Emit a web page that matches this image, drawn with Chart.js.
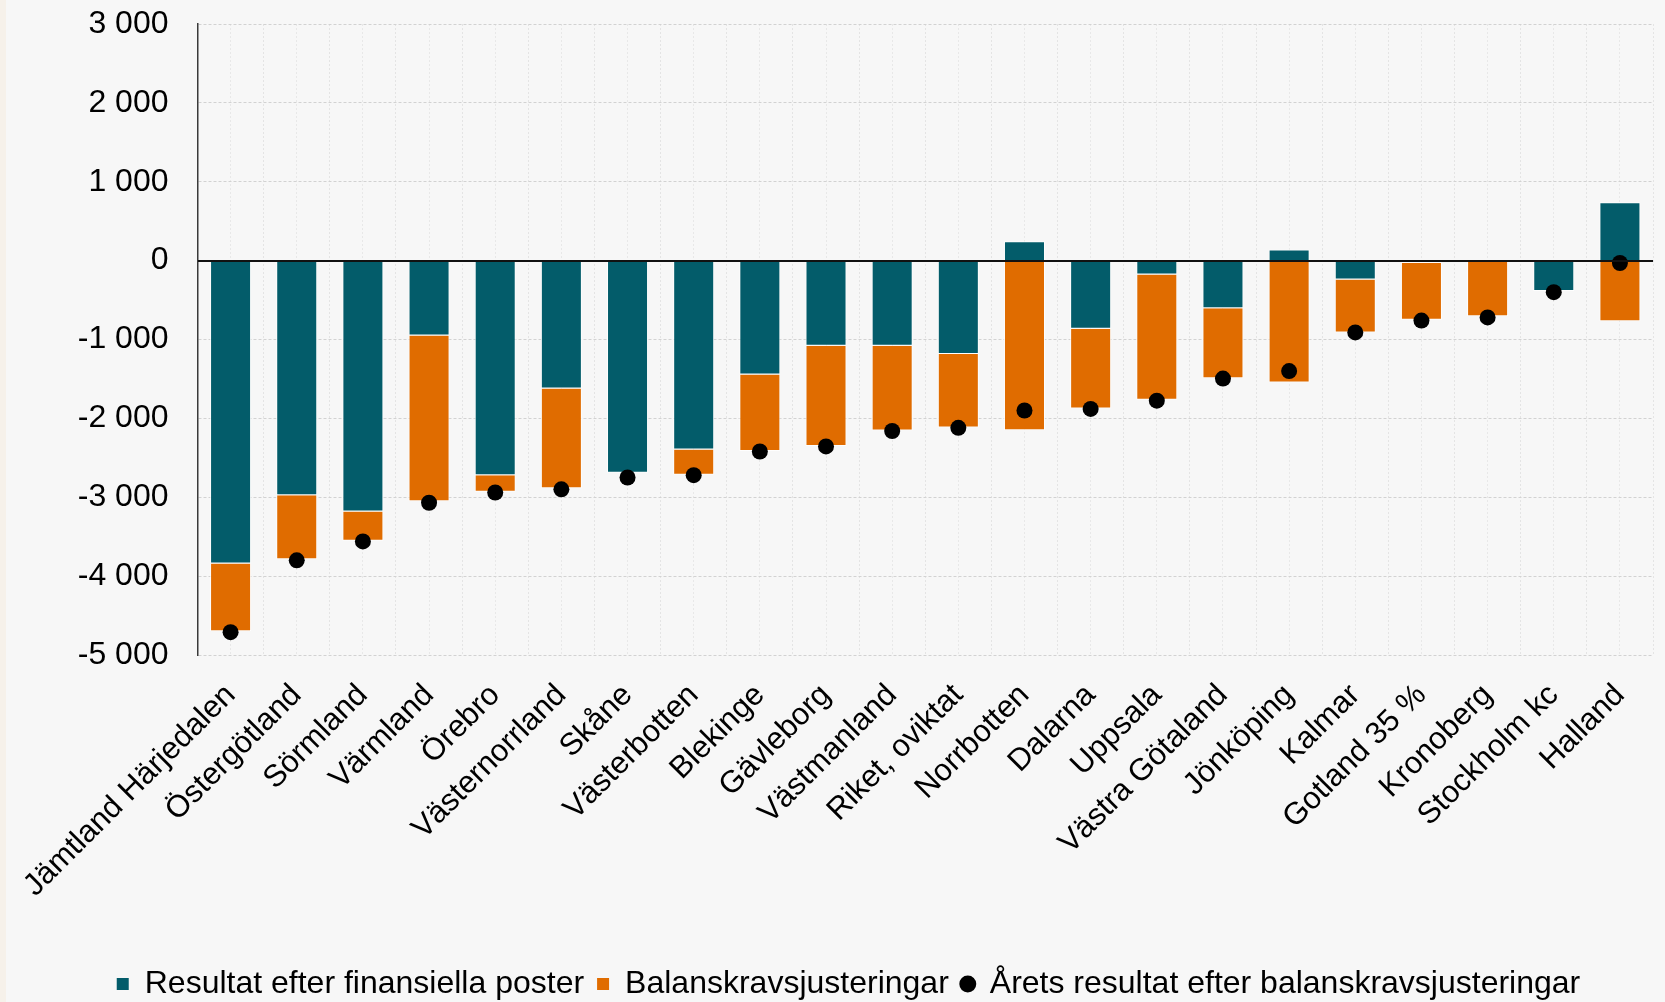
<!DOCTYPE html>
<html lang="sv">
<head>
<meta charset="utf-8">
<title>Resultat och balanskravsjusteringar per region</title>
<script src="https://cdn.jsdelivr.net/npm/chart.js@4.4.1/dist/chart.umd.min.js"></script>
<style>
  html, body { margin: 0; padding: 0; background: #f7f7f7; }
  #wrap { position: relative; width: 1665px; height: 1002px; }
  #edge { position: absolute; left: 0; top: 0; width: 6px; height: 100%; background: #f6f1ea; }
  canvas { display: block; }
</style>
</head>
<body>
<div id="wrap">
  <canvas id="chart" width="1665" height="1002"></canvas>
  <div id="edge"></div>
</div>
<script>
const categories = [
  "Jämtland Härjedalen", "Östergötland", "Sörmland", "Värmland", "Örebro",
  "Västernorrland", "Skåne", "Västerbotten", "Blekinge", "Gävleborg",
  "Västmanland", "Riket, oviktat", "Norrbotten", "Dalarna", "Uppsala",
  "Västra Götaland", "Jönköping", "Kalmar", "Gotland 35 %", "Kronoberg",
  "Stockholm kc", "Halland",
];
// mnkr
const resultat = [-3840, -2975, -3180, -950, -2720, -1620, -2690, -2395, -1445, -1080, -1080, -1185, 245, -865, -175, -605, 140, -240, -30, 0, -385, 740];
const balanskrav = [-860, -810, -370, -2100, -210, -1265, 0, -320, -970, -1270, -1075, -930, -2150, -1010, -1590, -885, -1545, -670, -720, -705, 0, -770];
const aretsResultat = [-4710, -3800, -3560, -3070, -2940, -2900, -2750, -2720, -2420, -2355, -2160, -2120, -1900, -1880, -1775, -1495, -1400, -910, -760, -720, -400, -30];

const yMin = -5000;
const yMax = 3000;
const yStep = 1000;

const TEAL = "#035c6a";
const ORANGE = "#e06c00";

// "3 000", "-1 000" – mellanslag som tusentalsavgränsare
function fmt(v) {
  const s = Math.abs(v).toString().replace(/\B(?=(\d{3})+(?!\d))/g, " ");
  return (v < 0 ? "-" : "") + s;
}

Chart.defaults.font.family = "'Liberation Sans', Arial, sans-serif";
Chart.defaults.color = "#000";

const ctx = document.getElementById("chart").getContext("2d");

new Chart(ctx, {
  type: "bar",
  data: {
    labels: categories,
    datasets: [
      {
        type: "bar",
        label: "Resultat efter finansiella poster",
        data: resultat,
        backgroundColor: TEAL,
        borderColor: "rgba(255,255,255,0.85)",
        borderWidth: 1,
        stack: "s",
        order: 1,
        xAxisID: "x",
        yAxisID: "y",
        barPercentage: 0.62,
        categoryPercentage: 1,
      },
      {
        type: "bar",
        label: "Balanskravsjusteringar",
        data: balanskrav,
        backgroundColor: ORANGE,
        borderColor: "rgba(255,255,255,0.85)",
        borderWidth: 1,
        stack: "s",
        order: 1,
        xAxisID: "x",
        yAxisID: "y",
        barPercentage: 0.62,
        categoryPercentage: 1,
      },
      {
        type: "line",
        label: "Årets resultat efter balanskravsjusteringar",
        data: aretsResultat,
        showLine: false,
        pointRadius: 8,
        pointHoverRadius: 8,
        pointBackgroundColor: "#000",
        pointBorderWidth: 0,
        backgroundColor: "#000",
        borderColor: "#000",
        stack: "dots",
        order: 0,
        xAxisID: "x",
        yAxisID: "y",
      },
    ],
  },
  options: {
    responsive: false,
    animation: false,
    // vänster padding 44 så att förklaringen hamnar centrerad som i originalet
    layout: { padding: { top: 24, right: 12, bottom: -8, left: 44 } },
    plugins: {
      tooltip: { enabled: false },
      legend: {
        position: "bottom",
        labels: {
          font: { size: 32 },
          color: "#000",
          usePointStyle: true,
          boxWidth: 12,
          boxHeight: 12,
          padding: 13,
          sort: (a, b) => a.datasetIndex - b.datasetIndex,
          generateLabels(chart) {
            const items = Chart.defaults.plugins.legend.labels.generateLabels(chart);
            items.forEach((it) => {
              const ds = chart.data.datasets[it.datasetIndex];
              it.pointStyle = ds.type === "line" ? "circle" : "rect";
              it.lineWidth = 0;
              it.strokeStyle = "transparent";
            });
            return items;
          },
        },
      },
    },
    scales: {
      x: {
        type: "category",
        stacked: true,
        offset: true,
        grid: {
          offset: true,
          color: "#e4e4e4",
          drawTicks: true,
          tickLength: 14,
          tickColor: "rgba(0,0,0,0)",
        },
        border: { display: false, dash: [2, 2] },
        ticks: {
          color: "#000",
          font: { size: 31 },
          maxRotation: 45,
          minRotation: 45,
          padding: 8,
          autoSkip: false,
        },
        afterFit(s) { s.height = 300; },
      },
      // extra linjer mitt i varje kategori
      x2: {
        type: "category",
        labels: categories,
        position: "top",
        offset: true,
        grid: { offset: false, color: "#e8e8e8", drawTicks: false },
        border: { display: false, dash: [2, 2] },
        ticks: { display: false },
      },
      y: {
        stacked: true,
        min: yMin,
        max: yMax,
        ticks: { stepSize: yStep, color: "#000", font: { size: 32 }, padding: 3, callback: fmt },
        grid: {
          color: (c) => (c.tick && c.tick.value === 0 ? "transparent" : "#d2d2d2"),
          drawTicks: true,
          tickLength: 26,
          tickColor: "rgba(0,0,0,0)",
        },
        border: { display: true, color: "#3a3a3a", width: 1.5, dash: [3, 2] },
        afterFit(s) { s.width = 153.5; },
      },
      // nollinjen
      yz: {
        position: "left",
        min: yMin,
        max: yMax,
        ticks: { display: false, stepSize: yStep },
        grid: {
          color: (c) => (c.tick && c.tick.value === 0 ? "#111" : "transparent"),
          lineWidth: 2,
          drawTicks: false,
          z: 1,
        },
        border: { display: false },
      },
    },
  },
});
</script>
</body>
</html>
